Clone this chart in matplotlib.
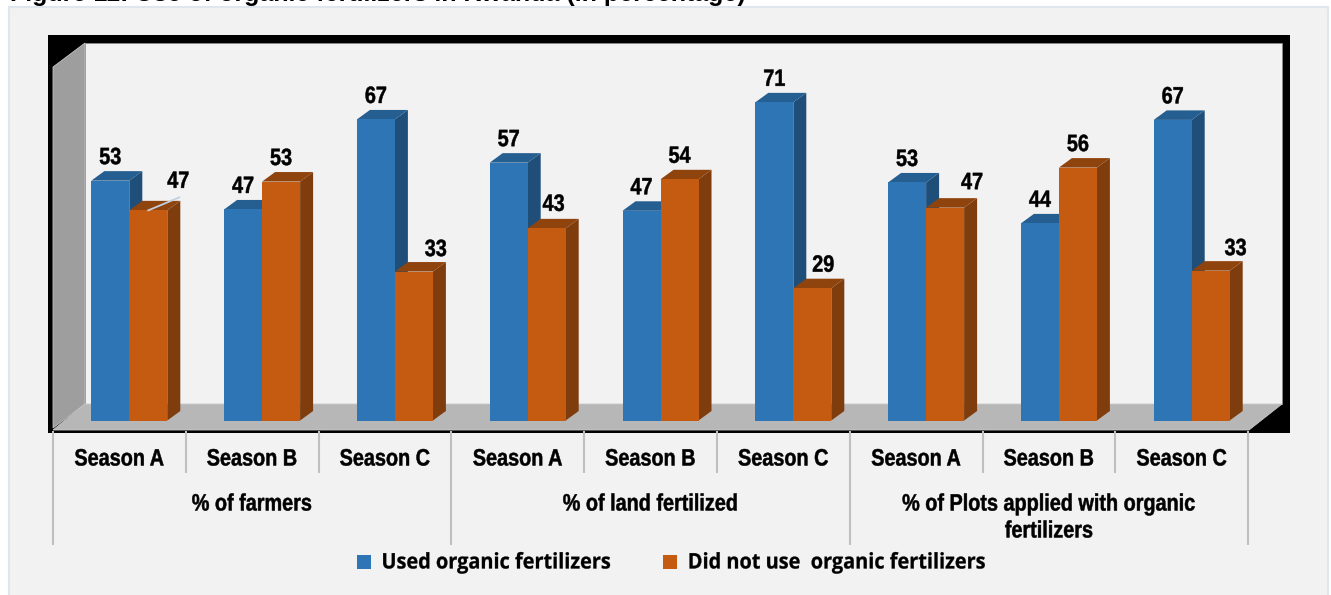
import matplotlib
matplotlib.use("Agg")
import matplotlib.pyplot as plt
from matplotlib.patches import Polygon, Rectangle
from matplotlib.patheffects import AbstractPathEffect
from matplotlib.transforms import Affine2D

# values (bar heights, the labels are these rounded)
seasons = ["Season A", "Season B", "Season C"] * 3
groups = ["% of farmers", "% of land fertilized", "% of Plots applied with organic\nfertilizers"]
used = [53.3, 46.9, 66.9, 57.3, 46.6, 70.7, 52.9, 43.8, 66.8]
not_used = [46.7, 53.1, 33.1, 42.7, 53.6, 29.4, 47.3, 56.2, 33.3]
legend_labels = ["Used organic fertilizers", "Did not use  organic fertilizers"]

# px scale of the chart
W, H = 1331, 595
X0, STEP = 129.3, 132.8
Y0, UNIT = 420.5, 4.5
BAR_W = 38 / STEP
DX, DY = 13 / STEP, 9.5 / UNIT
SHIFT = 10 / STEP  # labels sit left of the bars because of the 3d floor

BLUE = ("#2e75b6", "#255e91", "#1f4e79")
ORANGE = ("#c55a11", "#8f430d", "#7f3c0c")

# label placement in px, for the labels pushed off their bars
nudge_not = [30, 0, 22, 7, 0, 11, 27, 0, 25]
lift_not = [29, 23, 22, 24, 23, 23, 25, 23, 22]


class Squeeze(AbstractPathEffect):
    """Narrows text about its own centre, no condensed Arial on this box."""

    def __init__(self, factor, weight=0.0):
        super().__init__()
        self.factor = factor
        self.weight = weight

    def draw_path(self, renderer, gc, tpath, affine, rgbFace=None):
        cx = tpath.get_extents().intervalx.mean()
        squeeze = Affine2D().translate(-cx, 0).scale(self.factor, 1).translate(cx, 0)
        gc.set_linewidth(self.weight)
        renderer.draw_path(gc, tpath, squeeze + affine, rgbFace)


NARROW = dict(family="Liberation Sans", fontweight="bold", fontsize=17, path_effects=[Squeeze(0.84, 0.35)],
              ha="center", va="center", zorder=50)

fig = plt.figure(figsize=(W / 100, H / 100), dpi=100, facecolor="white")

# frame, walls and floor in pixel coordinates
bg = fig.add_axes([0, 0, 1, 1])
bg.set_xlim(0, W)
bg.set_ylim(H, 0)
bg.axis("off")
bg.add_patch(Rectangle((8.5, 6.5), 1319, 600, fc="#f2f2f2", ec="#dfe6ee", lw=1.5))
bg.add_patch(Rectangle((48, 35), 1242, 398, fc="black", ec="none"))
bg.add_patch(Rectangle((85, 43), 1197, 361, fc="#f2f2f2", ec="#8a8a8a", lw=0.6))
bg.add_patch(Polygon([(53, 67), (85, 43), (85, 404), (53, 428)], fc="#9e9e9e", ec="#c4c4c4", lw=0.6))
bg.add_patch(Polygon([(85, 404), (1282, 404), (1249, 430), (53, 430)], fc="#b7b7b7", ec="#c8c8c8", lw=0.6))

bg.text(10, 1, "Figure 11: Use of organic fertilizers in Rwanda (in percentage)",
        family="Liberation Sans", fontweight="bold", fontsize=18, ha="left", va="baseline")

# chart axes, x = category index, y = percent
ax = fig.add_axes([0, 0, 1, 1])
ax.patch.set_alpha(0)
ax.set_xlim(-X0 / STEP, (W - X0) / STEP)
ax.set_ylim((Y0 - H) / UNIT, Y0 / UNIT)
ax.axis("off")


def bar3d(x, v, colors, zorder):
    left, right = x - BAR_W / 2, x + BAR_W / 2
    ax.add_patch(Polygon([(right, 0), (right + DX, DY), (right + DX, v + DY), (right, v)],
                         fc=colors[2], ec="none", zorder=zorder))
    ax.add_patch(Polygon([(left, v), (left + DX, v + DY), (right + DX, v + DY), (right, v)],
                         fc=colors[1], ec="none", zorder=zorder))
    ax.bar(x, v, BAR_W, color=colors[0], zorder=zorder + 0.1)


for i in range(len(used)):
    bar3d(i - BAR_W / 2, used[i], BLUE, 3 + i)
    bar3d(i + BAR_W / 2, not_used[i], ORANGE, 3.5 + i)
    ax.text(i - BAR_W / 2, used[i] + 23 / UNIT, f"{used[i]:.0f}", **NARROW)
    ax.text(i + BAR_W / 2 + nudge_not[i] / STEP, not_used[i] + lift_not[i] / UNIT, f"{not_used[i]:.0f}", **NARROW)
    ax.text(i - SHIFT, -38.5 / UNIT, seasons[i], **NARROW)

# leader line of the first orange label
ax.plot([BAR_W / 2, BAR_W / 2 + 31 / STEP], [not_used[0], not_used[0] + 13 / UNIT],
        color="#c3d0df", lw=1.3, zorder=19)

# category separators
for i in range(len(used) + 1):
    long_tick = i % 3 == 0
    ax.plot([i - 0.5 - SHIFT] * 2, [-10 / UNIT, (-124 if long_tick else -52) / UNIT],
            color="#c0c0c0", lw=1.5, zorder=2, solid_capstyle="butt")

for g, name in enumerate(groups):
    y = -97 if "\n" in name else -83.5
    ax.text(3 * g + 1 - SHIFT, y / UNIT, name, linespacing=1.22, **NARROW)

# legend
for sx, tx, label, color in zip([357, 663], [496, 836.5], legend_labels, [BLUE[0], ORANGE[0]]):
    bg.add_patch(Rectangle((sx, 555), 14, 14, fc=color, ec="none"))
    bg.text(tx, 563, label, family="Open Sans", fontweight="bold", fontsize=15.5, ha="center", va="center",
            path_effects=[Squeeze(0.925, 0.2)])

fig.savefig("out.png", dpi=100)
